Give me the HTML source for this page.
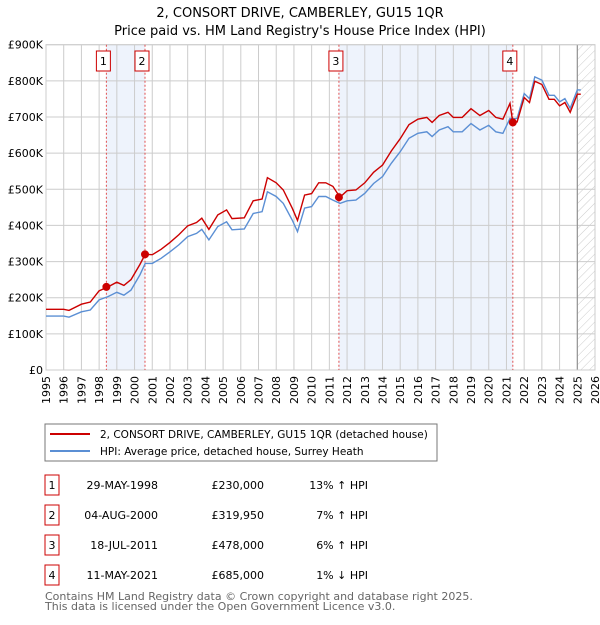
<!DOCTYPE html>
<html><head><meta charset="utf-8"><style>
body{margin:0;background:#fff;font-family:"Liberation Sans","DejaVu Sans",sans-serif;}
svg text{font-family:"DejaVu Sans","Liberation Sans",sans-serif;}
</style></head><body>
<svg id="c" width="600" height="620" xmlns="http://www.w3.org/2000/svg">
<defs><pattern id="hatch" width="6" height="6" patternUnits="userSpaceOnUse" patternTransform="rotate(45)"><line x1="0" y1="0" x2="0" y2="6" stroke="#ccc" stroke-width="1"/></pattern></defs>
<text x="300" y="17" text-anchor="middle" font-size="13">2, CONSORT DRIVE, CAMBERLEY, GU15 1QR</text>
<text x="300" y="35" text-anchor="middle" font-size="13">Price paid vs. HM Land Registry's House Price Index (HPI)</text>
<g id="plot"></g>
<rect x="45" y="424" width="392" height="37" fill="#fff" stroke="#777"/>
<line x1="50" y1="434" x2="90" y2="434" stroke="#cc0000" stroke-width="2"/>
<text x="100" y="438" font-size="10.5">2, CONSORT DRIVE, CAMBERLEY, GU15 1QR (detached house)</text>
<line x1="50" y1="451" x2="90" y2="451" stroke="#5b8fd4" stroke-width="2"/>
<text x="100" y="455" font-size="10.5">HPI: Average price, detached house, Surrey Heath</text>
<g id="tbl" font-size="11"></g>
<text x="45" y="600" font-size="11" fill="#666">Contains HM Land Registry data © Crown copyright and database right 2025.</text>
<text x="45" y="610" font-size="11" fill="#666">This data is licensed under the Open Government Licence v3.0.</text>
</svg>
<script>
const dates=[1995.0,1996.0,1996.3,1997.0,1997.5,1998.0,1998.5,1999.0,1999.4,1999.8,2000.3,2000.6,2001.0,2001.5,2002.0,2002.5,2003.0,2003.5,2003.8,2004.2,2004.7,2005.2,2005.5,2006.2,2006.7,2007.2,2007.5,2008.0,2008.4,2008.9,2009.2,2009.6,2010.0,2010.4,2010.8,2011.2,2011.6,2012.0,2012.5,2013.0,2013.5,2014.0,2014.5,2015.0,2015.5,2016.0,2016.5,2016.8,2017.2,2017.7,2018.0,2018.5,2019.0,2019.5,2020.0,2020.4,2020.8,2021.2,2021.36,2021.6,2022.0,2022.3,2022.6,2023.0,2023.4,2023.7,2024.0,2024.3,2024.6,2025.0,2025.2];
const hpi=[149,149,146,161,166,194,203,215,207,221,263,295,295,309,327,346,369,378,389,360,397,410,388,390,433,438,493,480,461,415,383,448,452,480,480,470,461,468,470,489,516,535,572,604,641,655,659,646,664,673,659,659,682,664,677,659,655,696,695,696,765,751,811,802,760,760,742,751,724,775,775];
const price=[168,168,165,182,188,219,230,243,234,250,292,320,319,334,353,374,399,408,420,389,429,443,419,421,468,473,532,518,498,448,414,484,488,518,518,508,478,496,498,518,547,567,606,640,679,694,699,685,704,713,699,699,723,704,718,699,694,738,685,686,754,740,799,790,749,749,731,740,713,763,763];
const saleDates=[1998.41,2000.59,2011.54,2021.36];
const saleValues=[230,319.95,478,685];
const saleLabels=["1","2","3","4"];
const saleDateText=["29-MAY-1998","04-AUG-2000","18-JUL-2011","11-MAY-2021"];
const salePriceText=["£230,000","£319,950","£478,000","£685,000"];
const saleHpiText=["13% ↑ HPI","7% ↑ HPI","6% ↑ HPI","1% ↓ HPI"];
const yTicks=[0,100,200,300,400,500,600,700,800,900];
const yTickLabels=["£0","£100K","£200K","£300K","£400K","£500K","£600K","£700K","£800K","£900K"];
const xYears=[];for(let y=1995;y<=2026;y++)xYears.push(y);
const X0=46,X1=595,Y0=370,Y1=44.7;
const xs=d=>X0+(d-1995)/31*(X1-X0);
const ys=v=>Y0-v/900*(Y0-Y1);
const NS="http://www.w3.org/2000/svg";
const g=document.getElementById('plot');
function mk(t,a,p){const e=document.createElementNS(NS,t);for(const k in a)e.setAttribute(k,a[k]);(p||g).appendChild(e);return e;}
let e;
e=mk('rect',{x:xs(saleDates[0]),y:Y1,width:xs(saleDates[1])-xs(saleDates[0]),height:Y0-Y1,fill:'#eef3fc'});


e=mk('rect',{x:xs(saleDates[2]),y:Y1,width:xs(saleDates[3])-xs(saleDates[2]),height:Y0-Y1,fill:'#eef3fc'});


e=mk('rect',{x:xs(2025),y:Y1,width:X1-xs(2025),height:Y0-Y1,fill:'url(#hatch)'});


xYears.forEach(y=>{if(y<2026){e=mk('line',{x1:xs(y),x2:xs(y),y1:Y1,y2:Y0,stroke:'#ccc','stroke-width':1});

}
e=mk('text',{x:0,y:0,'font-size':11,'text-anchor':'end',transform:`translate(${xs(y)+4},${Y0+6}) rotate(-90)`});e.textContent=y;

});
yTicks.forEach((v,i)=>{e=mk('line',{x1:X0,x2:X1,y1:ys(v),y2:ys(v),stroke:'#ccc','stroke-width':1});


e=mk('text',{x:X0-3,y:ys(v)+4,'font-size':11,'text-anchor':'end'});e.textContent=yTickLabels[i];

});
e=mk('line',{x1:xs(2025),x2:xs(2025),y1:Y1,y2:Y0,stroke:'#888','stroke-width':1});


e=mk('rect',{x:X0,y:Y1,width:X1-X0,height:Y0-Y1,fill:'none',stroke:'#ccc'});


saleDates.forEach((d,i)=>{e=mk('line',{x1:xs(d),x2:xs(d),y1:Y1,y2:Y0,stroke:'#e05050','stroke-width':1,'stroke-dasharray':'2,2'});


e=mk('rect',{x:xs(d)-10,y:51,width:14,height:20,fill:'#fff',stroke:'#cc0000'});


e=mk('text',{x:xs(d)-3,y:65,'font-size':11,'text-anchor':'middle'});e.textContent=saleLabels[i];

});
const path=arr=>arr.map((v,i)=>(i?'L':'M')+xs(dates[i]).toFixed(1)+','+ys(v).toFixed(1)).join('');
e=mk('path',{d:path(hpi),fill:'none',stroke:'#5b8fd4','stroke-width':1.4});


e=mk('path',{d:path(price),fill:'none',stroke:'#cc0000','stroke-width':1.4});


saleDates.forEach((d,i)=>{e=mk('circle',{cx:xs(d),cy:ys(saleValues[i]),r:4,fill:'#cc0000'});

});
const t=document.getElementById('tbl');
saleDates.forEach((d,i)=>{const y=483+i*30;
e=mk('rect',{x:45,y:y-8,width:14,height:20,fill:'#fff',stroke:'#cc0000'},t);


e=mk('text',{x:52,y:y+6,'text-anchor':'middle'},t);e.textContent=saleLabels[i];


e=mk('text',{x:158,y:y+6,'text-anchor':'end'},t);e.textContent=saleDateText[i];


e=mk('text',{x:264,y:y+6,'text-anchor':'end'},t);e.textContent=salePriceText[i];


e=mk('text',{x:368,y:y+6,'text-anchor':'end'},t);e.textContent=saleHpiText[i];

});
</script>
</body></html>
